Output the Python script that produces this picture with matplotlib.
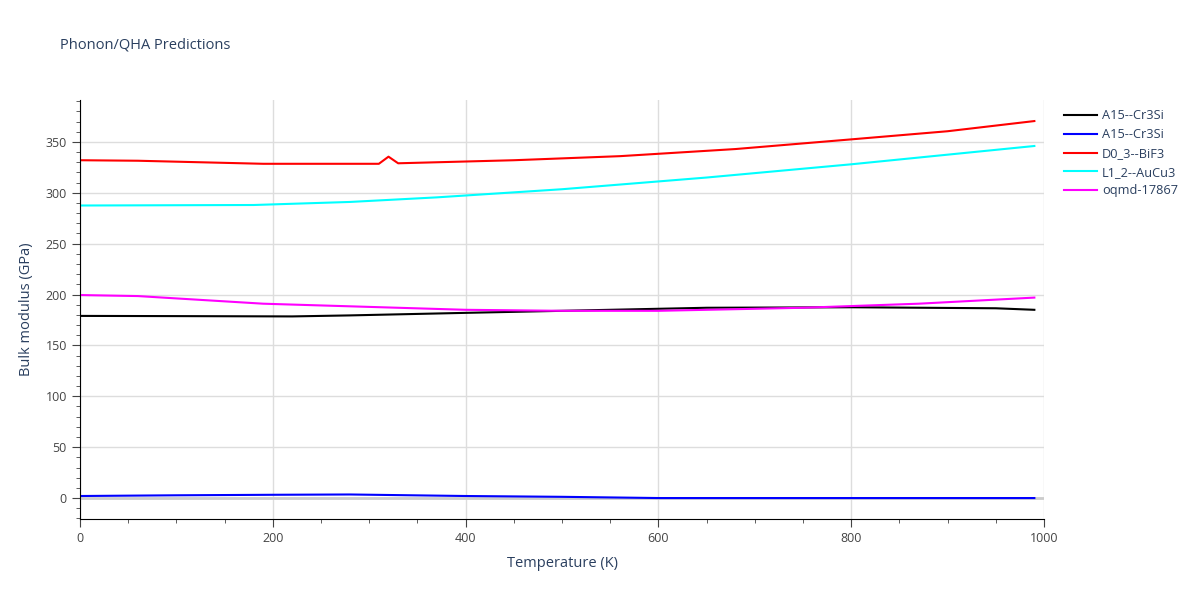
import matplotlib.pyplot as plt
from matplotlib.ticker import MultipleLocator

plt.rcParams['font.family'] = ['Open Sans', 'DejaVu Sans']

# values
black_T = [0, 100, 220, 280, 400, 500, 650, 800, 950, 990]
black_B = [179, 178.8, 178.5, 179.5, 182, 184, 187, 187.5, 186.5, 185]

blue_T = [0, 100, 200, 280, 400, 500, 600, 800, 990]
blue_B = [2, 2.7, 3.2, 3.5, 2, 1.2, 0, 0, 0]

red_T = [0, 60, 190, 310, 320, 330, 450, 560, 680, 800, 900, 990]
red_B = [332, 331.5, 328.5, 328.5, 335.5, 329, 332, 336, 343, 352.5, 360.5, 370.5]

cyan_T = [0, 180, 280, 370, 500, 650, 800, 990]
cyan_B = [287.5, 288, 291, 295.5, 303.5, 315, 328, 346]

mag_T = [0, 60, 190, 400, 500, 600, 750, 870, 990]
mag_B = [199.5, 198.5, 191, 185, 184, 184, 187, 191, 197]

series = [
    (black_T, black_B, 'A15--Cr3Si', 'black'),
    (blue_T, blue_B, 'A15--Cr3Si', 'blue'),
    (red_T, red_B, 'D0_3--BiF3', 'red'),
    (cyan_T, cyan_B, 'L1_2--AuCu3', 'cyan'),
    (mag_T, mag_B, 'oqmd-17867', 'magenta'),
]

fig = plt.figure(figsize=(12, 6), dpi=100)
ax = fig.add_axes([0.0667, 0.135, 0.8033, 0.698])

for t, b, name, c in series:
    ax.plot(t, b, color=c, linewidth=1.5, label=name)

ax.set_xlim(0, 1000)
ax.set_ylim(-20.6, 391)
ax.xaxis.set_major_locator(MultipleLocator(200))
ax.xaxis.set_minor_locator(MultipleLocator(50))
ax.yaxis.set_major_locator(MultipleLocator(50))
ax.yaxis.set_minor_locator(MultipleLocator(10))
ax.grid(True, which='major', color='#dddddd', linewidth=1)
ax.axhline(0, color='#cccccc', linewidth=2, zorder=1)
ax.set_axisbelow(True)
for s in ['top', 'right']:
    ax.spines[s].set_visible(False)
for s in ['left', 'bottom']:
    ax.spines[s].set_color('black')
ax.tick_params(which='major', length=6, color='#444444', labelcolor='#444444', labelsize=9)
ax.tick_params(which='minor', length=3, color='#444444')

ax.set_xlabel('Temperature (K)', color='#2a3f5f', fontsize=10.5, labelpad=8)
ax.set_ylabel('Bulk modulus (GPa)', color='#2a3f5f', fontsize=10.5, labelpad=8)
fig.text(0.05, 0.925, 'Phonon/QHA Predictions', color='#2a3f5f', fontsize=10.5, va='center')

leg = ax.legend(loc='upper left', bbox_to_anchor=(1.015, 0.99), frameon=False,
                fontsize=9.2, handlelength=2.6, labelspacing=0.45, handletextpad=0.4,
                borderaxespad=0)
for txt in leg.get_texts():
    txt.set_color('#2a3f5f')

fig.savefig('out.png', dpi=100)
